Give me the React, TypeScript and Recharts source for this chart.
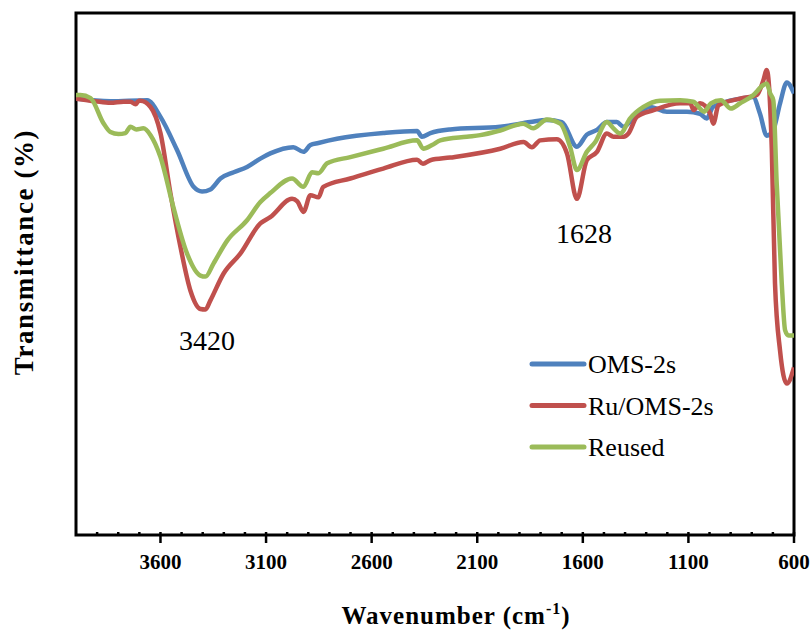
import React from 'react';
import { LineChart, Line, XAxis, YAxis, ReferenceArea, Legend, Customized } from 'recharts';

// wavenumber (cm-1) / transmittance (arbitrary %)
const OMS_WN = [4000, 3837, 3663, 3600, 3521, 3443, 3403, 3364, 3316, 3253, 3190, 3127, 3080, 2971, 2923, 2890, 2852, 2764, 2545, 2385, 2362, 2322, 2228, 1991, 1849, 1770, 1699, 1628, 1581, 1533, 1486, 1439, 1407, 1344, 1281, 1202, 1107, 1045, 1013, 983, 855, 794, 761, 729, 699, 666, 634, 600];
const OMS_T = [83.6, 83.1, 83.3, 80.1, 73.7, 66.7, 65.8, 66.2, 68.3, 69.5, 70.5, 72.1, 73.1, 74.3, 73.4, 74.7, 75.1, 75.9, 77.0, 77.4, 76.3, 77.0, 77.7, 78.2, 79.1, 79.5, 79.1, 74.4, 76.7, 77.6, 79.1, 79.1, 78.2, 80.7, 82.0, 81.1, 81.1, 80.7, 79.8, 82.0, 83.6, 83.9, 80.7, 76.5, 77.5, 82.7, 86.7, 84.6];

const RU_WN = [4000, 3908, 3837, 3775, 3742, 3718, 3702, 3695, 3647, 3600, 3553, 3505, 3458, 3411, 3387, 3364, 3301, 3222, 3127, 3080, 2977, 2952, 2923, 2890, 2852, 2829, 2701, 2545, 2385, 2357, 2322, 2228, 1991, 1881, 1841, 1802, 1723, 1675, 1628, 1581, 1533, 1486, 1455, 1407, 1384, 1344, 1265, 1139, 1091, 1076, 1045, 997, 982, 958, 855, 776, 745, 729, 705, 690, 666, 634, 600];
const RU_T = [83.6, 83.1, 82.8, 83.0, 83.0, 82.5, 83.2, 83.2, 82.0, 77.0, 65.5, 55.1, 46.8, 43.3, 43.2, 44.9, 50.1, 53.9, 59.7, 60.9, 64.4, 63.9, 61.9, 65.1, 64.7, 66.7, 68.3, 70.2, 71.9, 71.1, 71.8, 72.3, 74.0, 75.3, 74.3, 75.6, 75.8, 73.1, 64.4, 71.8, 73.4, 76.9, 76.3, 76.3, 76.9, 80.1, 81.4, 82.7, 82.7, 81.4, 82.7, 80.7, 78.8, 82.3, 83.6, 84.3, 87.1, 89.1, 73.7, 48.2, 35.3, 29.0, 32.1];

const REUSED_WN = [4000, 3979, 3931, 3870, 3837, 3799, 3766, 3742, 3714, 3681, 3647, 3600, 3539, 3474, 3411, 3387, 3349, 3284, 3190, 3127, 3080, 2977, 2923, 2882, 2852, 2811, 2701, 2545, 2385, 2355, 2314, 2275, 2149, 2086, 1991, 1882, 1835, 1770, 1707, 1660, 1628, 1581, 1541, 1486, 1455, 1423, 1376, 1313, 1234, 1139, 1077, 1025, 994, 946, 899, 855, 792, 745, 729, 713, 698, 682, 658, 642, 626, 600];
const REUSED_T = [84.3, 84.3, 83.7, 78.9, 77.2, 76.8, 77.0, 78.2, 77.7, 77.9, 76.6, 72.4, 62.8, 53.9, 49.7, 49.5, 52.0, 56.4, 60.3, 63.8, 65.5, 68.3, 66.7, 69.5, 69.3, 71.2, 72.4, 74.0, 75.6, 74.0, 74.7, 75.6, 76.3, 76.6, 77.5, 78.8, 77.9, 79.6, 78.8, 74.3, 69.9, 73.4, 75.3, 79.1, 77.9, 76.9, 79.8, 82.0, 83.2, 83.3, 83.0, 81.1, 82.7, 83.3, 81.7, 82.7, 84.3, 86.2, 86.5, 84.6, 83.3, 67.4, 48.2, 39.2, 38.2, 38.2];

const MAJOR_TICKS = [3600, 3100, 2600, 2100, 1600, 1100, 600];
const MINOR_TICKS = [3900, 3800, 3700, 3500, 3400, 3300, 3200, 3000, 2900, 2800, 2700, 2500, 2400, 2300, 2200, 2000, 1900, 1800, 1700, 1500, 1400, 1300, 1200, 1000, 900, 800, 700];

const SERIES = [
  { name: 'OMS-2s', wn: OMS_WN, t: OMS_T, color: '#4F81BD' },
  { name: 'Ru/OMS-2s', wn: RU_WN, t: RU_T, color: '#C0504D' },
  { name: 'Reused', wn: REUSED_WN, t: REUSED_T, color: '#9BBB59' },
];

const FONT = '"Liberation Serif", "Times New Roman", serif';

const toRows = (wn: number[], t: number[]) => wn.map((w, i) => ({ wn: w, t: t[i] }));

const WaveTick = (p: any) => {
  const v = p.payload.value;
  const major = MAJOR_TICKS.includes(v);
  return (
    <g>
      <line x1={p.x} x2={p.x} y1={p.y - 3} y2={p.y + (major ? 8 : 0)} stroke="#000" strokeWidth={2.5} />
      {major && (
        <text x={p.x} y={p.y + 34} textAnchor="middle" fontFamily={FONT} fontWeight="bold" fontSize={21} fill="#000">
          {v}
        </text>
      )}
    </g>
  );
};

const LegendBox = () => (
  <svg width={220} height={130}>
    {SERIES.map((s, i) => (
      <g key={s.name}>
        <line x1={14} x2={66} y1={24 + i * 41.5} y2={24 + i * 41.5} stroke={s.color} strokeWidth={5} strokeLinecap="round" />
        <text x={70} y={33 + i * 41.5} fontFamily={FONT} fontSize={26} fill="#000">{s.name}</text>
      </g>
    ))}
  </svg>
);

const Annotations = () => (
  <g fontFamily={FONT} fill="#000">
    <text x={207} y={350} textAnchor="middle" fontSize={28}>3420</text>
    <text x={584} y={243} textAnchor="middle" fontSize={28}>1628</text>
    <text x={456} y={624} textAnchor="middle" fontSize={25} fontWeight="bold" letterSpacing={1}>
      Wavenumber (cm<tspan fontSize={16} dy={-10}>-1</tspan><tspan dy={10}>)</tspan>
    </text>
    <text transform="translate(33, 252) rotate(-90)" textAnchor="middle" fontSize={27} fontWeight="bold" letterSpacing={1.6}>
      Transmittance (%)
    </text>
  </g>
);

export default function App() {
  return (
    <div style={{ position: 'absolute', left: 0, top: 0, width: 810, height: 630, background: '#fff' }}>
      <LineChart width={810} height={630} margin={{ top: 13, right: 16, bottom: 0, left: 76 }}>
        <XAxis
          type="number"
          dataKey="wn"
          domain={[600, 4000]}
          reversed
          allowDataOverflow
          ticks={[...MAJOR_TICKS, ...MINOR_TICKS].sort((a, b) => b - a)}
          interval={0}
          tick={WaveTick}
          tickLine={false}
          axisLine={false}
          tickSize={0}
          tickMargin={0}
          height={95}
        />
        <YAxis type="number" domain={[0, 100]} hide />
        {SERIES.map((s) => (
          <Line
            key={s.name}
            name={s.name}
            data={toRows(s.wn, s.t)}
            dataKey="t"
            type="monotone"
            stroke={s.color}
            strokeWidth={4.5}
            dot={false}
            isAnimationActive={false}
          />
        ))}
        <ReferenceArea x1={4000} x2={600} y1={0} y2={100} fill="none" stroke="#000" strokeWidth={3} ifOverflow="visible" />
        <Legend
          layout="vertical"
          align="center"
          verticalAlign="middle"
          content={LegendBox}
          wrapperStyle={{ position: 'absolute', left: 518, top: 340, width: 220, height: 130 }}
        />
        <Customized component={Annotations} />
      </LineChart>
    </div>
  );
}
